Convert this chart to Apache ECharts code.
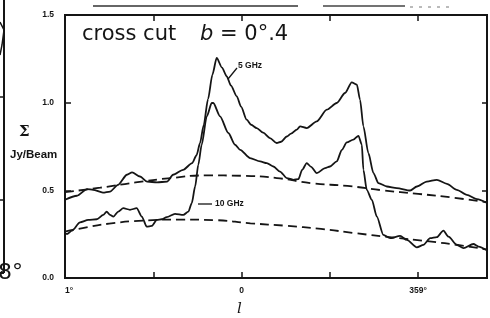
<!DOCTYPE html>
<html>
<head>
<meta charset="utf-8">
<script src="https://cdn.jsdelivr.net/npm/echarts@6/dist/echarts.min.js"></script>
<style>
  html, body { margin: 0; padding: 0; background: #fff; }
  #main { width: 490px; height: 318px; }
</style>
</head>
<body>
<div id="main"></div>
<script>
// x = degrees of longitude from l = 1° (0 -> 1°, 1 -> 0°, 2 -> 359°)
var tickNames = { 0: "1°", 1: "0", 2: "359°" };

var ghz5X = [0, 0.068, 0.125, 0.159, 0.215, 0.255, 0.30, 0.351, 0.38, 0.425, 0.465, 0.521, 0.578, 0.612, 0.669, 0.72, 0.745, 0.765,
  0.785, 0.81, 0.835, 0.859, 0.889, 0.916, 0.94, 0.973, 0.997, 1.029, 1.054, 1.086, 1.122, 1.161, 1.199, 1.224, 1.256, 1.28,
  1.313, 1.331, 1.369, 1.426, 1.483, 1.539, 1.586, 1.624, 1.653, 1.671, 1.69, 1.718, 1.747, 1.775, 1.823, 1.879, 1.955,
  1.993, 2.049, 2.106, 2.163, 2.219, 2.276, 2.333, 2.39];
var ghz5Y = [0.446, 0.469, 0.507, 0.503, 0.487, 0.493, 0.531, 0.589, 0.602, 0.579, 0.55, 0.545, 0.55, 0.589, 0.617, 0.655, 0.70, 0.77,
  0.87, 1.02, 1.16, 1.255, 1.2, 1.15, 1.097, 1.036, 0.977, 0.903, 0.874, 0.855, 0.829, 0.798, 0.77, 0.777, 0.807, 0.823,
  0.846, 0.865, 0.855, 0.893, 0.96, 0.998, 1.055, 1.116, 1.103, 1.017, 0.865, 0.713, 0.598, 0.541, 0.522, 0.513, 0.499,
  0.522, 0.55, 0.56, 0.537, 0.503, 0.474, 0.45, 0.428];

var ghz10X = [0, 0.011, 0.04, 0.085, 0.132, 0.18, 0.217, 0.236, 0.255, 0.274, 0.302, 0.33, 0.368, 0.406, 0.435, 0.463, 0.491,
  0.52, 0.548, 0.576, 0.623, 0.67, 0.699, 0.718, 0.737, 0.755, 0.774, 0.803, 0.831, 0.84, 0.878, 0.925, 0.963, 0.992,
  1.048, 1.105, 1.143, 1.18, 1.218, 1.256, 1.293, 1.322, 1.343, 1.369, 1.394, 1.426, 1.473, 1.501, 1.539, 1.568, 1.596,
  1.633, 1.662, 1.681, 1.69, 1.709, 1.738, 1.766, 1.803, 1.841, 1.898, 1.936, 1.993, 2.03, 2.068, 2.106, 2.143, 2.172,
  2.219, 2.257, 2.313, 2.342, 2.39];
var ghz10Y = [0.255, 0.251, 0.27, 0.317, 0.331, 0.335, 0.36, 0.379, 0.36, 0.35, 0.379, 0.398, 0.389, 0.398, 0.35, 0.293, 0.297,
  0.331, 0.335, 0.347, 0.366, 0.36, 0.379, 0.427, 0.522, 0.646, 0.76, 0.922, 0.998, 0.998, 0.922, 0.827, 0.76, 0.731,
  0.684, 0.665, 0.655, 0.636, 0.607, 0.57, 0.56, 0.564, 0.617, 0.655, 0.634, 0.598, 0.627, 0.636, 0.665, 0.731, 0.773,
  0.789, 0.811, 0.76, 0.617, 0.503, 0.446, 0.35, 0.246, 0.227, 0.24, 0.217, 0.175, 0.189, 0.227, 0.233, 0.27, 0.236,
  0.189, 0.17, 0.194, 0.179, 0.158];

var base5X = [0, 0.2, 0.4, 0.6, 0.8, 1.0, 1.2, 1.4, 1.6, 1.8, 2.0, 2.2, 2.39];
var base5Y = [0.49, 0.515, 0.545, 0.57, 0.585, 0.583, 0.57, 0.54, 0.525, 0.50, 0.48, 0.458, 0.432];

var base10X = [0, 0.1, 0.25, 0.45, 0.65, 0.85, 1.05, 1.25, 1.45, 1.65, 1.85, 2.05, 2.25, 2.39];
var base10Y = [0.265, 0.285, 0.31, 0.328, 0.333, 0.33, 0.312, 0.298, 0.28, 0.255, 0.232, 0.21, 0.185, 0.162];

function zip(xs, ys) {
  return xs.map(function (x, i) { return [x, ys[i]]; });
}

var ink = "#151515";
var chart = echarts.init(document.getElementById("main"));

function tickFont() {
  return { fontFamily: "Liberation Sans", fontWeight: "bold", fontSize: 8.5, color: ink };
}
function ticks(len) {
  return { show: true, inside: true, length: len, lineStyle: { color: ink, width: 1.5 } };
}
// bare axis that only carries inward ticks (frame comes from the grid border)
function tickAxis(pos, max, len) {
  return {
    type: "value", min: 0, max: max, interval: 0.5, position: pos,
    axisLine: { show: false, onZero: false }, splitLine: { show: false },
    axisTick: ticks(len), axisLabel: { show: false }
  };
}

var option = {
  animation: false,
  backgroundColor: "#fff",
  grid: { left: 65, right: 3, top: 15, bottom: 40, show: true, borderColor: ink, borderWidth: 2 },
  xAxis: [
    {
      type: "value", min: 0, max: 2.39, interval: 0.5, position: "bottom",
      axisLine: { show: false, onZero: false }, splitLine: { show: false }, axisTick: { show: false },
      axisLabel: Object.assign({
        margin: 8, showMaxLabel: false, alignMinLabel: "left",
        formatter: function (v) { return tickNames[v] || ""; }
      }, tickFont())
    },
    tickAxis("top", 2.39, 6),
    tickAxis("bottom", 2.39, 6)
  ],
  yAxis: [
    {
      type: "value", min: 0, max: 1.5, interval: 0.5, position: "left",
      axisLine: { show: false, onZero: false }, splitLine: { show: false }, axisTick: { show: false },
      axisLabel: Object.assign({
        margin: 11,
        formatter: function (v) { return v.toFixed(1); }
      }, tickFont())
    },
    tickAxis("right", 1.5, 5),
    tickAxis("left", 1.5, 6)
  ],
  series: [
    {
      name: "5 GHz", type: "line", data: zip(ghz5X, ghz5Y), showSymbol: false,
      smooth: 0.25, smoothMonotone: "x", lineStyle: { color: ink, width: 1.8 }
    },
    {
      name: "10 GHz", type: "line", data: zip(ghz10X, ghz10Y), showSymbol: false,
      smooth: 0.25, smoothMonotone: "x", lineStyle: { color: ink, width: 1.8 }
    },
    {
      name: "5 GHz base", type: "line", data: zip(base5X, base5Y), showSymbol: false,
      xAxisIndex: 1, yAxisIndex: 1,
      smooth: 0.5, lineStyle: { color: ink, width: 1.8, type: [9, 5] }
    },
    {
      name: "10 GHz base", type: "line", data: zip(base10X, base10Y), showSymbol: false,
      xAxisIndex: 2, yAxisIndex: 2,
      smooth: 0.5, lineStyle: { color: ink, width: 1.8, type: [9, 5] }
    }
  ],
  graphic: [
    // handwritten title
    { type: "text", left: 82, top: 24, style: { text: "cross cut", font: "21px 'DejaVu Sans'", fill: ink } },
    {
      type: "text", left: 200, top: 24,
      style: {
        text: "{i|b} = 0°.4", font: "21px 'DejaVu Sans'", fill: ink,
        rich: { i: { fontStyle: "italic", fontSize: 21, fontFamily: "DejaVu Sans", color: ink } }
      }
    },
    // series labels with leader lines
    { type: "line", shape: { x1: 228, y1: 79, x2: 237, y2: 68 }, style: { stroke: ink, lineWidth: 1.3 } },
    { type: "text", left: 238, top: 61, style: { text: "5 GHz", font: "bold 8.5px 'Liberation Sans'", fill: ink } },
    { type: "line", shape: { x1: 198, y1: 204, x2: 212, y2: 204 }, style: { stroke: ink, lineWidth: 1.3 } },
    { type: "text", left: 215, top: 199, style: { text: "10 GHz", font: "bold 8.5px 'Liberation Sans'", fill: ink } },
    // axis names
    { type: "text", left: 19, top: 125, style: { text: "Σ", font: "bold 15px 'DejaVu Serif'", fill: ink } },
    { type: "text", left: 10, top: 149, style: { text: "Jy/Beam", font: "bold 11.5px 'Liberation Sans'", fill: ink } },
    { type: "text", left: 237, top: 302, style: { text: "l", font: "italic 15px 'DejaVu Serif'", fill: ink } },
    // remnants of the neighbouring panel
    { type: "line", shape: { x1: 4, y1: 0, x2: 4, y2: 273 }, style: { stroke: ink, lineWidth: 2 } },
    { type: "line", shape: { x1: 0, y1: 97, x2: 4, y2: 97 }, style: { stroke: ink, lineWidth: 1.5 } },
    { type: "line", shape: { x1: 0, y1: 200, x2: 4, y2: 200 }, style: { stroke: ink, lineWidth: 1.5 } },
    { type: "line", shape: { x1: 0, y1: 273, x2: 4, y2: 273 }, style: { stroke: ink, lineWidth: 2 } },
    { type: "polyline", shape: { points: [[0, 22], [4, 30], [2, 45], [0, 55]] }, style: { stroke: ink, lineWidth: 1.5, fill: null } },
    { type: "text", left: -2, top: 262, style: { text: "8°", font: "22px 'DejaVu Sans'", fill: ink } },
    // scan line at the top
    { type: "line", shape: { x1: 93, y1: 6, x2: 298, y2: 6 }, style: { stroke: "#333", lineWidth: 1.5 } },
    { type: "line", shape: { x1: 323, y1: 6, x2: 405, y2: 6 }, style: { stroke: "#444", lineWidth: 1.5 } },
    { type: "line", shape: { x1: 410, y1: 7, x2: 450, y2: 7 }, style: { stroke: "#777", lineWidth: 1, lineDash: [3, 6] } }
  ]
};

chart.setOption(option);
</script>
</body>
</html>
